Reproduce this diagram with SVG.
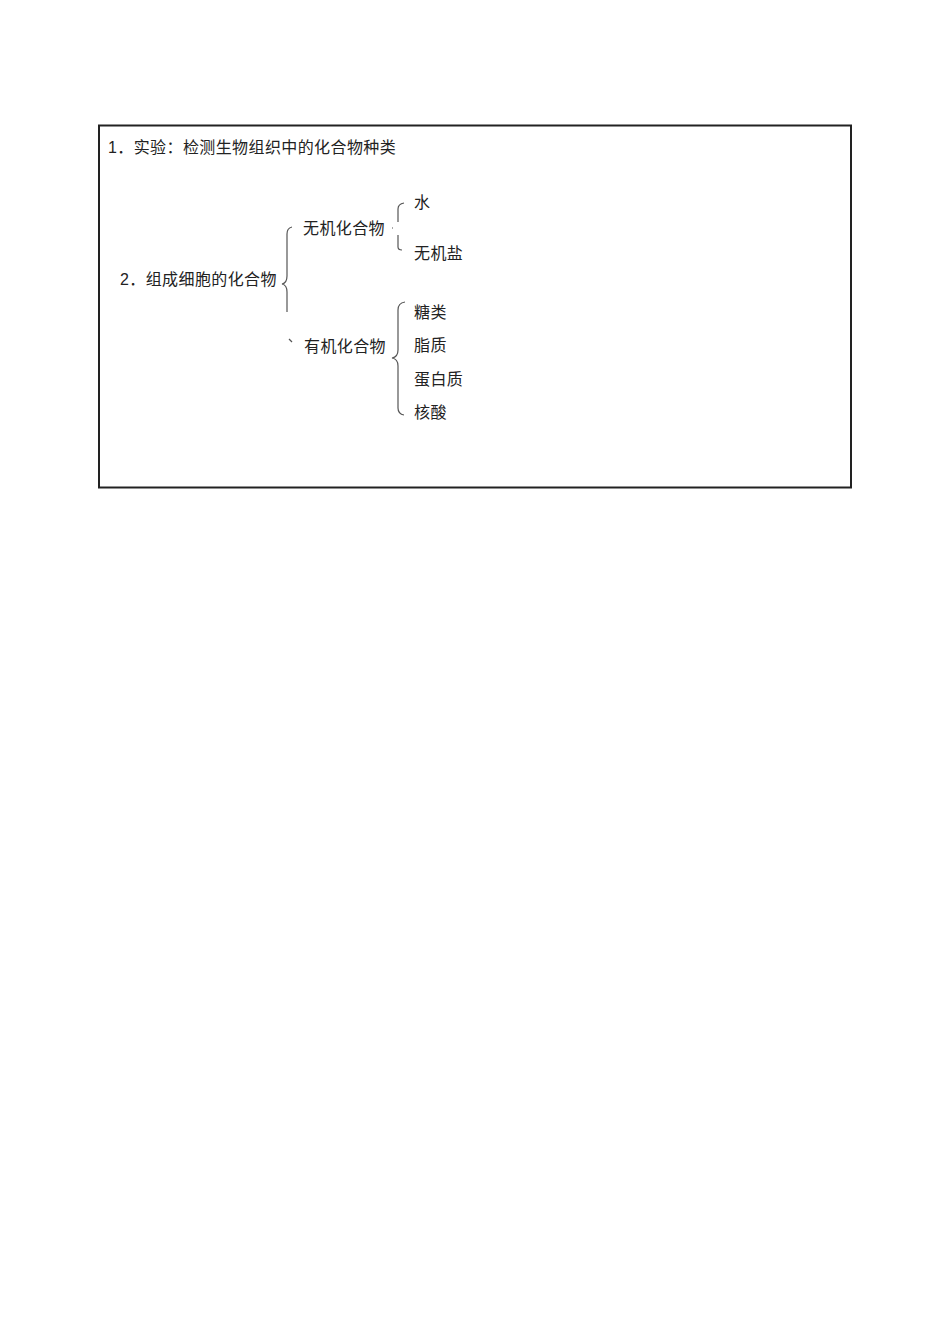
<svg xmlns="http://www.w3.org/2000/svg" width="950" height="1344" viewBox="0 0 950 1344">
<style>
text{font-family:"Liberation Sans","Noto Sans CJK SC",sans-serif;font-size:16px;letter-spacing:0.4px;fill:#222}
.br{fill:none;stroke:#555;stroke-width:1.2}
</style>
<rect width="950" height="1344" fill="#fff"/>
<rect x="99" y="125.5" width="752" height="362" fill="none" stroke="#222" stroke-width="2"/>
<g id="title"><text x="108" y="153">1．实验：检测生物组织中的化合物种类</text></g>
<g id="root"><text x="120" y="285">2．组成细胞的化合物</text></g>
<g id="inorganic"><text x="303" y="234">无机化合物</text></g>
<g id="organic"><text x="304" y="352">有机化合物</text></g>
<g id="water"><text x="414" y="208">水</text></g>
<g id="salt"><text x="414" y="259">无机盐</text></g>
<g id="sugar"><text x="414" y="318">糖类</text></g>
<g id="lipid"><text x="414" y="351">脂质</text></g>
<g id="protein"><text x="414" y="385">蛋白质</text></g>
<g id="nucleic"><text x="414" y="418">核酸</text></g>
<g id="connectors">
<path class="br" d="M292,227 Q287,228 287,234 L287,276 Q287,283 282,284 Q287,285 287,292 L287,312"/>
<path class="br" d="M289,339 L292,342"/>
<path class="br" d="M404,203 Q398,204 398,209 L398,222 M392,228 L393,228 M398,235 L398,247 Q398,250 402,250"/>
<path class="br" d="M405,302 Q398,303 398,310 L398,350 Q398,357 392,358 Q398,359 398,366 L398,408 Q398,414 404,415"/>
</g>
</svg>
